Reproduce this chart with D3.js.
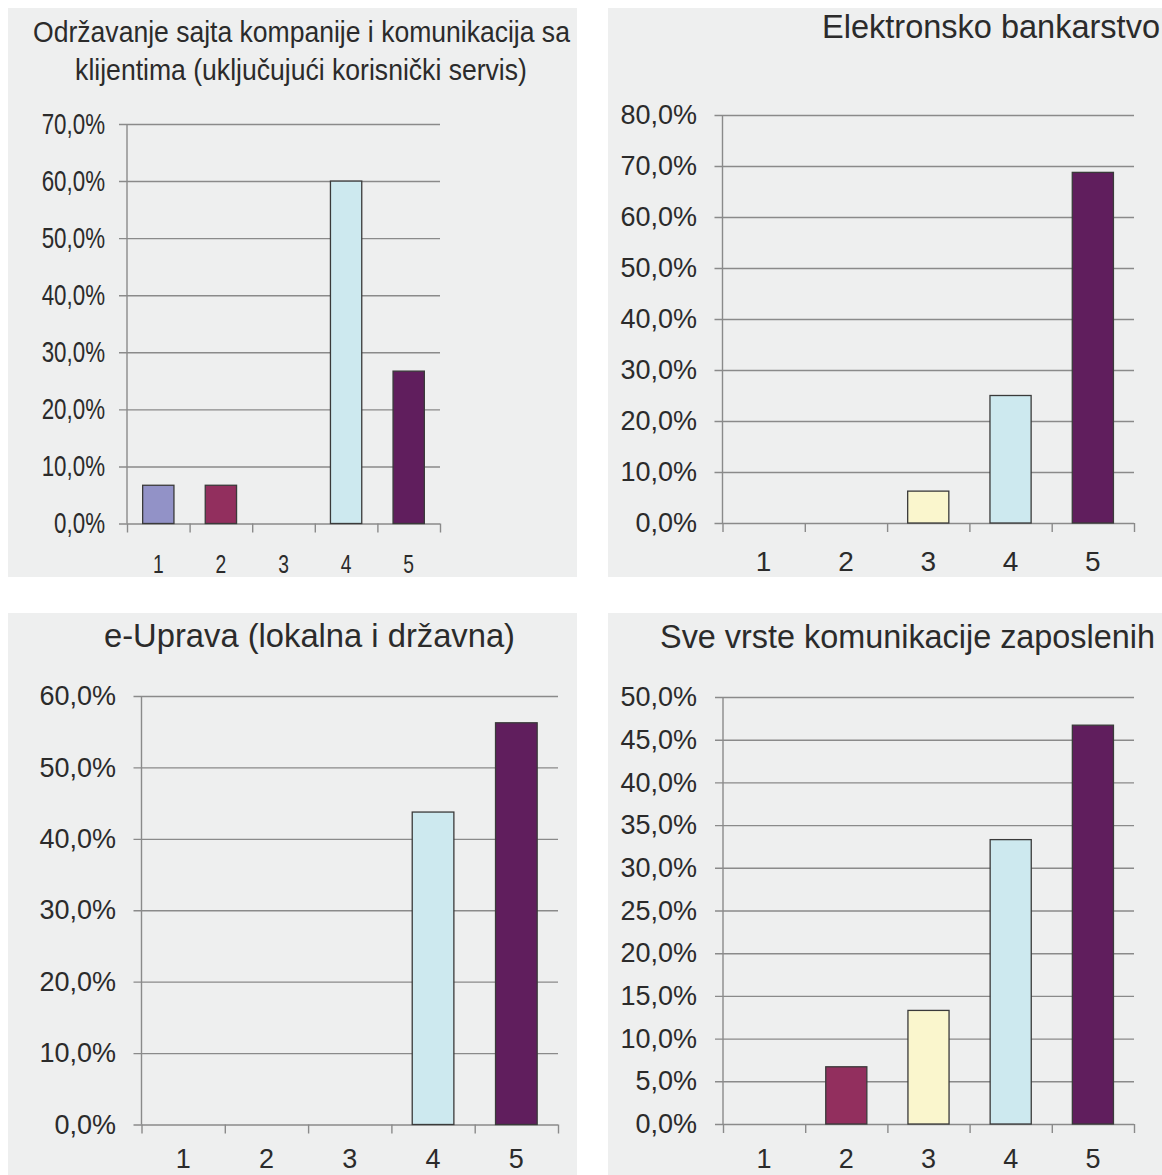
<!DOCTYPE html>
<html>
<head>
<meta charset="utf-8">
<script src="https://cdn.jsdelivr.net/npm/d3@7"></script>
<style>
  html, body { margin: 0; padding: 0; background: #ffffff; }
  svg { display: block; }
</style>
</head>
<body>
<svg id="chart" width="1162" height="1175"></svg>
<script>
// ---- data ----
const categories = ["1", "2", "3", "4", "5"];

const titleSajt = ["Održavanje sajta kompanije i komunikacija sa", "klijentima (uključujući korisnički servis)"];
const titleBank = ["Elektronsko bankarstvo"];
const titleUprava = ["e-Uprava (lokalna i državna)"];
const titleKomunikacija = ["Sve vrste komunikacije zaposlenih"];

const valuesSajt = [6.7, 6.7, 0, 60.0, 26.7];
const valuesBank = [0, 0, 6.25, 25.0, 68.75];
const valuesUprava = [0, 0, 0, 43.75, 56.25];
const valuesKomunikacija = [0, 6.7, 13.3, 33.3, 46.7];

const ticksSajt = [0, 10, 20, 30, 40, 50, 60, 70];
const ticksBank = [0, 10, 20, 30, 40, 50, 60, 70, 80];
const ticksUprava = [0, 10, 20, 30, 40, 50, 60];
const ticksKomunikacija = [0, 5, 10, 15, 20, 25, 30, 35, 40, 45, 50];

const barColors = ["#9292c7", "#922f5e", "#faf6cd", "#cde9ef", "#601e5d"];

// ---- layout ----
const svg = d3.select("#chart");
const BG = "#eeefef";
const GRID = "#8a8a8a";
const TEXT = "#2b2b2b";
const FONT = "'Liberation Sans', Arial, sans-serif";

const panels = [
  { values: valuesSajt, ticks: ticksSajt, title: titleSajt,
    bg: [8, 8, 577, 577], x0: 127, x1: 440, yTop: 124, yBot: 523.5,
    sx: 0.77, tickFont: 29, labelFont: 25, labelY: 573, labelRight: 105,
    titleFont: 30,
    titleLines: [{ cx: 301.5, y: 42, w: 537 }, { cx: 301, y: 80, w: 452 }] },
  { values: valuesBank, ticks: ticksBank, title: titleBank,
    bg: [608, 8, 1162, 577], x0: 722.5, x1: 1134, yTop: 115, yBot: 523,
    sx: 1, tickFont: 27, labelFont: 28, labelY: 571, labelRight: 697,
    titleFont: null,
    titleLines: [{ cx: 991, y: 38, w: 338 }] },
  { values: valuesUprava, ticks: ticksUprava, title: titleUprava,
    bg: [8, 613, 577, 1175], x0: 141.5, x1: 558, yTop: 696, yBot: 1124.5,
    sx: 1, tickFont: 27, labelFont: 27, labelY: 1168, labelRight: 116,
    titleFont: null,
    titleLines: [{ cx: 309.5, y: 647, w: 411 }] },
  { values: valuesKomunikacija, ticks: ticksKomunikacija, title: titleKomunikacija,
    bg: [608, 613, 1162, 1175], x0: 723, x1: 1134, yTop: 697, yBot: 1124,
    sx: 1, tickFont: 27, labelFont: 27, labelY: 1168, labelRight: 697,
    titleFont: null,
    titleLines: [{ cx: 907.5, y: 648, w: 495 }] }
];

const fmt = v => d3.format(".1f")(v).replace(".", ",") + "%";

panels.forEach(p => {
  const g = svg.append("g");
  g.append("rect")
    .attr("x", p.bg[0]).attr("y", p.bg[1])
    .attr("width", p.bg[2] - p.bg[0]).attr("height", p.bg[3] - p.bg[1])
    .attr("fill", BG);

  const maxV = d3.max(p.ticks);
  const y = d3.scaleLinear().domain([0, maxV]).range([p.yBot, p.yTop]);
  const xBand = d3.scaleBand().domain(categories).range([p.x0, p.x1])
    .paddingInner(0.5).paddingOuter(0.25).align(0.5);
  const xLabel = d3.scaleBand().domain(categories).range([p.x0, p.x1]);
  const xTicks = d3.scaleLinear().domain([0, categories.length]).range([p.x0, p.x1]);

  // gridlines + y labels
  const pad = p.x0 - 8 - p.labelRight;
  const yAxis = d3.axisLeft(y)
    .tickValues(p.ticks)
    .tickSizeInner(-(p.x1 - p.x0 + 8))
    .tickSizeOuter(0)
    .tickPadding(pad)
    .tickFormat(fmt);
  const ya = g.append("g").attr("transform", `translate(${p.x0 - 8},0)`).call(yAxis);
  ya.select(".domain").remove();
  ya.selectAll(".tick line").attr("stroke", GRID).attr("stroke-width", 1.4);
  ya.selectAll(".tick text")
    .attr("fill", TEXT)
    .attr("x", -pad / p.sx)
    .attr("transform", `scale(${p.sx},1)`)
    .style("font-family", FONT)
    .style("font-size", p.tickFont + "px");

  // x tick marks at band edges
  const xAxisTicks = d3.axisBottom(xTicks)
    .tickValues(d3.range(categories.length + 1))
    .tickSize(9).tickFormat("");
  const xa = g.append("g").attr("transform", `translate(0,${p.yBot})`).call(xAxisTicks);
  xa.select(".domain").remove();
  xa.selectAll(".tick line").attr("stroke", GRID).attr("stroke-width", 1.4);

  // vertical axis line
  g.append("line")
    .attr("x1", p.x0).attr("x2", p.x0)
    .attr("y1", y(maxV)).attr("y2", p.yBot)
    .attr("stroke", GRID).attr("stroke-width", 1.4);

  // bars
  g.selectAll("rect.bar")
    .data(p.values.map((v, i) => ({ cat: categories[i], v, i })).filter(d => d.v > 0))
    .join("rect")
    .attr("class", "bar")
    .attr("x", d => xBand(d.cat))
    .attr("width", xBand.bandwidth())
    .attr("y", d => y(d.v))
    .attr("height", d => y(0) - y(d.v))
    .attr("fill", d => barColors[d.i])
    .attr("stroke", "#3a3a3a")
    .attr("stroke-width", 1.3);

  // x labels
  g.selectAll("text.xl")
    .data(categories)
    .join("text")
    .attr("class", "xl")
    .attr("transform", d => `translate(${xLabel(d) + xLabel.bandwidth() / 2},${p.labelY}) scale(${p.sx},1)`)
    .attr("text-anchor", "middle")
    .attr("fill", TEXT)
    .style("font-family", FONT)
    .style("font-size", p.labelFont + "px")
    .text(d => d);

  // title
  p.title.forEach((line, i) => {
    const L = p.titleLines[i];
    const t = g.append("text")
      .attr("text-anchor", "middle")
      .attr("fill", TEXT)
      .style("font-family", FONT)
      .style("font-size", "100px")
      .text(line);
    const w = t.node().getComputedTextLength();
    if (p.titleFont) {
      const sx = L.w / (w * p.titleFont / 100);
      t.style("font-size", p.titleFont + "px")
        .attr("transform", `translate(${L.cx},${L.y}) scale(${sx.toFixed(4)},1)`);
    } else {
      t.style("font-size", (100 * L.w / w).toFixed(2) + "px")
        .attr("transform", `translate(${L.cx},${L.y})`);
    }
  });
});
</script>
</body>
</html>
